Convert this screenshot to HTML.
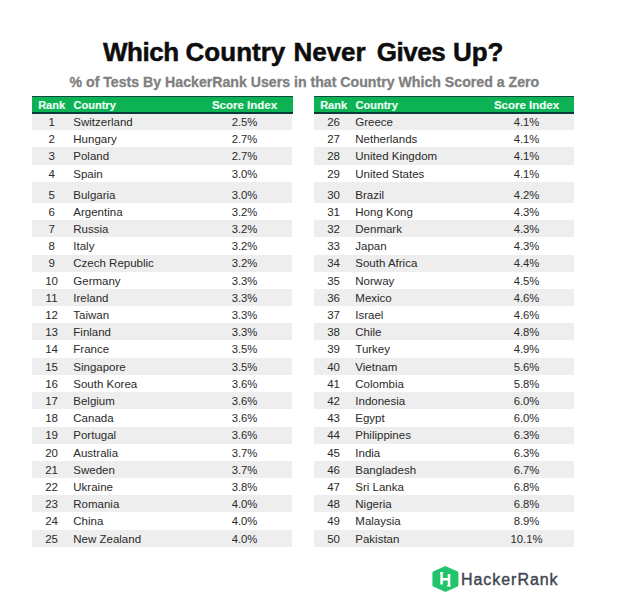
<!DOCTYPE html>
<html><head><meta charset="utf-8">
<style>
html,body{margin:0;padding:0;background:#fff;}
body{width:627px;height:616px;position:relative;overflow:hidden;font-family:"Liberation Sans",sans-serif;}
.title span{position:absolute;top:0;}
.title{position:absolute;left:0;top:38.9px;font-size:26px;line-height:26px;font-weight:700;color:#0d0d0d;white-space:nowrap;-webkit-text-stroke:0.5px #0d0d0d;}
.sub{position:absolute;left:69.5px;top:75.4px;font-size:14.15px;line-height:14px;font-weight:700;color:#808080;-webkit-text-stroke:0.3px #808080;white-space:nowrap;}
.tbl{position:absolute;top:96px;width:260.5px;height:451px;}
.hdr{position:absolute;left:0;top:0;height:15px;background:#0cb254;border-top:1px solid #0b4a3f;border-bottom:2px solid #0a3b3a;color:#effff5;font-weight:700;font-size:11px;line-height:15px;-webkit-text-stroke:0.15px #effff5;}
.hdr span{position:absolute;top:0.9px;white-space:nowrap;}
.h-rank{left:0;width:39.2px;text-align:center;}
.h-country{left:41.6px;}
.h-score{left:165px;width:95px;text-align:center;font-size:11.5px;}
.row{position:absolute;left:0;width:100%;color:#2a2a2a;font-size:11.5px;}
.row.odd{background:#eeeeee;}
.row span{position:absolute;bottom:1.3px;line-height:13px;white-space:nowrap;}
.rank{left:0;width:39.2px;text-align:center;}
.country{left:41.3px;}
.score{left:165px;width:95px;text-align:center;font-size:11.3px;}
.logo{position:absolute;left:431px;top:565px;}
.logotext{position:absolute;left:461px;top:571.5px;font-size:16px;line-height:16px;color:#3e4450;letter-spacing:0.95px;-webkit-text-stroke:0.4px #3e4450;white-space:nowrap;}
</style></head><body>
<div class="title"><span style="left:103px;letter-spacing:-0.45px">Which</span><span style="left:185.6px">Country</span><span style="left:293.4px">Never</span><span style="left:376.8px;letter-spacing:-0.45px">Gives</span><span style="left:452.9px">Up?</span></div>
<div class="sub">% of Tests By HackerRank Users in that Country Which Scored a Zero</div>
<div class="tbl" style="left:32px;width:259.6px">
<div class="hdr" style="width:260.9px"><span class="h-rank">Rank</span><span class="h-country">Country</span><span class="h-score">Score Index</span></div>
<div class="row odd" style="top:18.00px;height:16.40px"><span class="rank">1</span><span class="country">Switzerland</span><span class="score">2.5%</span></div>
<div class="row" style="top:34.40px;height:16.80px"><span class="rank">2</span><span class="country">Hungary</span><span class="score">2.7%</span></div>
<div class="row odd" style="top:51.20px;height:17.40px"><span class="rank">3</span><span class="country">Poland</span><span class="score">2.7%</span></div>
<div class="row" style="top:68.60px;height:17.60px"><span class="rank">4</span><span class="country">Spain</span><span class="score">3.0%</span></div>
<div class="row odd" style="top:86.20px;height:20.70px"><span class="rank">5</span><span class="country">Bulgaria</span><span class="score">3.0%</span></div>
<div class="row" style="top:106.90px;height:17.20px"><span class="rank">6</span><span class="country">Argentina</span><span class="score">3.2%</span></div>
<div class="row odd" style="top:124.10px;height:17.20px"><span class="rank">7</span><span class="country">Russia</span><span class="score">3.2%</span></div>
<div class="row" style="top:141.30px;height:17.20px"><span class="rank">8</span><span class="country">Italy</span><span class="score">3.2%</span></div>
<div class="row odd" style="top:158.50px;height:17.20px"><span class="rank">9</span><span class="country">Czech Republic</span><span class="score">3.2%</span></div>
<div class="row" style="top:175.70px;height:17.20px"><span class="rank">10</span><span class="country">Germany</span><span class="score">3.3%</span></div>
<div class="row odd" style="top:192.90px;height:17.20px"><span class="rank">11</span><span class="country">Ireland</span><span class="score">3.3%</span></div>
<div class="row" style="top:210.10px;height:17.20px"><span class="rank">12</span><span class="country">Taiwan</span><span class="score">3.3%</span></div>
<div class="row odd" style="top:227.30px;height:17.20px"><span class="rank">13</span><span class="country">Finland</span><span class="score">3.3%</span></div>
<div class="row" style="top:244.50px;height:17.20px"><span class="rank">14</span><span class="country">France</span><span class="score">3.5%</span></div>
<div class="row odd" style="top:261.70px;height:17.20px"><span class="rank">15</span><span class="country">Singapore</span><span class="score">3.5%</span></div>
<div class="row" style="top:278.90px;height:17.20px"><span class="rank">16</span><span class="country">South Korea</span><span class="score">3.6%</span></div>
<div class="row odd" style="top:296.10px;height:17.20px"><span class="rank">17</span><span class="country">Belgium</span><span class="score">3.6%</span></div>
<div class="row" style="top:313.30px;height:17.20px"><span class="rank">18</span><span class="country">Canada</span><span class="score">3.6%</span></div>
<div class="row odd" style="top:330.50px;height:17.20px"><span class="rank">19</span><span class="country">Portugal</span><span class="score">3.6%</span></div>
<div class="row" style="top:347.70px;height:17.20px"><span class="rank">20</span><span class="country">Australia</span><span class="score">3.7%</span></div>
<div class="row odd" style="top:364.90px;height:17.20px"><span class="rank">21</span><span class="country">Sweden</span><span class="score">3.7%</span></div>
<div class="row" style="top:382.10px;height:17.20px"><span class="rank">22</span><span class="country">Ukraine</span><span class="score">3.8%</span></div>
<div class="row odd" style="top:399.30px;height:17.20px"><span class="rank">23</span><span class="country">Romania</span><span class="score">4.0%</span></div>
<div class="row" style="top:416.50px;height:17.20px"><span class="rank">24</span><span class="country">China</span><span class="score">4.0%</span></div>
<div class="row odd" style="top:433.70px;height:17.20px"><span class="rank">25</span><span class="country">New Zealand</span><span class="score">4.0%</span></div>
</div>
<div class="tbl" style="left:314px;width:259.7px">
<div class="hdr" style="width:260.3px"><span class="h-rank">Rank</span><span class="h-country">Country</span><span class="h-score">Score Index</span></div>
<div class="row odd" style="top:18.00px;height:16.40px"><span class="rank">26</span><span class="country">Greece</span><span class="score">4.1%</span></div>
<div class="row" style="top:34.40px;height:16.80px"><span class="rank">27</span><span class="country">Netherlands</span><span class="score">4.1%</span></div>
<div class="row odd" style="top:51.20px;height:17.40px"><span class="rank">28</span><span class="country">United Kingdom</span><span class="score">4.1%</span></div>
<div class="row" style="top:68.60px;height:17.60px"><span class="rank">29</span><span class="country">United States</span><span class="score">4.1%</span></div>
<div class="row odd" style="top:86.20px;height:20.70px"><span class="rank">30</span><span class="country">Brazil</span><span class="score">4.2%</span></div>
<div class="row" style="top:106.90px;height:17.20px"><span class="rank">31</span><span class="country">Hong Kong</span><span class="score">4.3%</span></div>
<div class="row odd" style="top:124.10px;height:17.20px"><span class="rank">32</span><span class="country">Denmark</span><span class="score">4.3%</span></div>
<div class="row" style="top:141.30px;height:17.20px"><span class="rank">33</span><span class="country">Japan</span><span class="score">4.3%</span></div>
<div class="row odd" style="top:158.50px;height:17.20px"><span class="rank">34</span><span class="country">South Africa</span><span class="score">4.4%</span></div>
<div class="row" style="top:175.70px;height:17.20px"><span class="rank">35</span><span class="country">Norway</span><span class="score">4.5%</span></div>
<div class="row odd" style="top:192.90px;height:17.20px"><span class="rank">36</span><span class="country">Mexico</span><span class="score">4.6%</span></div>
<div class="row" style="top:210.10px;height:17.20px"><span class="rank">37</span><span class="country">Israel</span><span class="score">4.6%</span></div>
<div class="row odd" style="top:227.30px;height:17.20px"><span class="rank">38</span><span class="country">Chile</span><span class="score">4.8%</span></div>
<div class="row" style="top:244.50px;height:17.20px"><span class="rank">39</span><span class="country">Turkey</span><span class="score">4.9%</span></div>
<div class="row odd" style="top:261.70px;height:17.20px"><span class="rank">40</span><span class="country">Vietnam</span><span class="score">5.6%</span></div>
<div class="row" style="top:278.90px;height:17.20px"><span class="rank">41</span><span class="country">Colombia</span><span class="score">5.8%</span></div>
<div class="row odd" style="top:296.10px;height:17.20px"><span class="rank">42</span><span class="country">Indonesia</span><span class="score">6.0%</span></div>
<div class="row" style="top:313.30px;height:17.20px"><span class="rank">43</span><span class="country">Egypt</span><span class="score">6.0%</span></div>
<div class="row odd" style="top:330.50px;height:17.20px"><span class="rank">44</span><span class="country">Philippines</span><span class="score">6.3%</span></div>
<div class="row" style="top:347.70px;height:17.20px"><span class="rank">45</span><span class="country">India</span><span class="score">6.3%</span></div>
<div class="row odd" style="top:364.90px;height:17.20px"><span class="rank">46</span><span class="country">Bangladesh</span><span class="score">6.7%</span></div>
<div class="row" style="top:382.10px;height:17.20px"><span class="rank">47</span><span class="country">Sri Lanka</span><span class="score">6.8%</span></div>
<div class="row odd" style="top:399.30px;height:17.20px"><span class="rank">48</span><span class="country">Nigeria</span><span class="score">6.8%</span></div>
<div class="row" style="top:416.50px;height:17.20px"><span class="rank">49</span><span class="country">Malaysia</span><span class="score">8.9%</span></div>
<div class="row odd" style="top:433.70px;height:17.20px"><span class="rank">50</span><span class="country">Pakistan</span><span class="score">10.1%</span></div>
</div>
<svg class="logo" width="30" height="30" viewBox="0 0 30 30">
<path d="M13.3 1.6 Q14.4 1.1 15.5 1.6 L26.6 6.5 Q27.4 6.9 27.4 7.8 L27.4 20.2 Q27.4 21.1 26.6 21.5 L15.5 26.4 Q14.4 26.9 13.3 26.4 L2.2 21.5 Q1.4 21.1 1.4 20.2 L1.4 7.8 Q1.4 6.9 2.2 6.5 Z" fill="#22c46b"/>
<path d="M10.6 7.2 L10.6 19.6 M18.0 8.9 L18.0 21.2 M10.6 14.25 L18.0 14.25" stroke="#fff" stroke-width="2.5" fill="none"/>
<path d="M9.0 7.1 L12.3 7.1 L12.0 8.4 L9.2 8.4 Z M16.3 20.2 L19.6 20.2 L19.9 21.5 L16.0 21.5 Z" fill="#fff"/>
</svg>
<div class="logotext">HackerRank</div>
</body></html>
